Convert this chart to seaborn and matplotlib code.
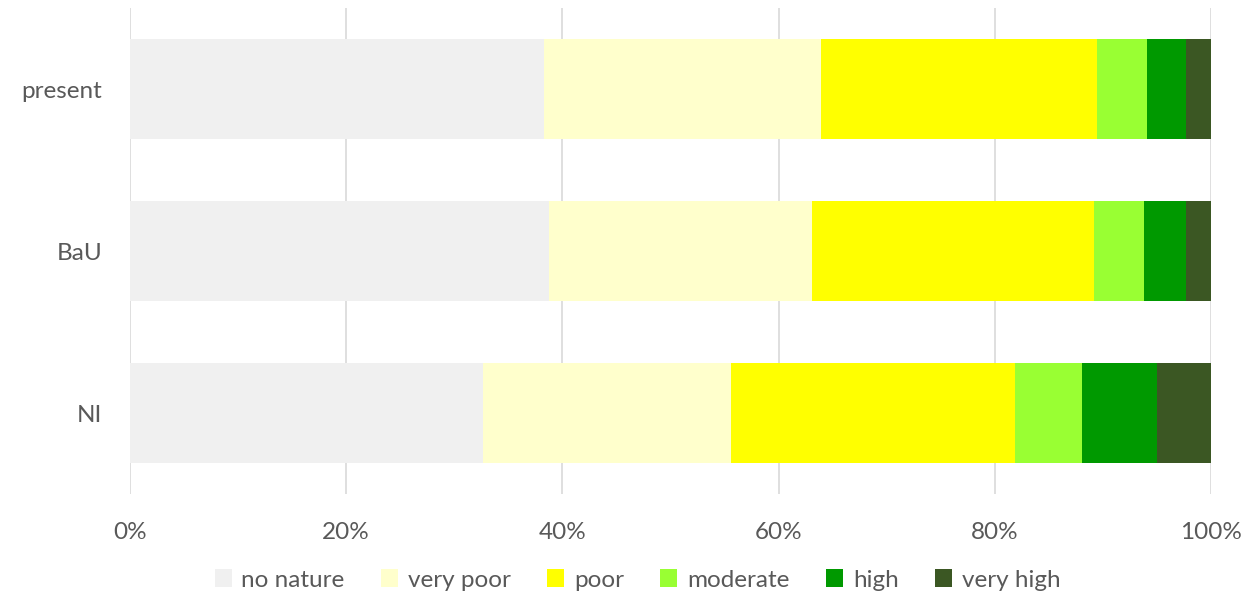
import numpy as np
import pandas as pd
import seaborn as sns
import matplotlib.pyplot as plt
from matplotlib.patches import Patch

scenarios = ["present", "BaU", "NI"]
classes = ["no nature", "very poor", "poor", "moderate", "high", "very high"]

no_nature = [38.3, 38.8, 32.7]
very_poor = [25.6, 24.3, 22.9]
poor = [25.6, 26.1, 26.3]
moderate = [4.6, 4.6, 6.2]
high = [3.6, 3.9, 6.9]
very_high = [2.3, 2.3, 5.0]

colors = ["#F0F0F0", "#FFFFCC", "#FFFF00", "#99FF33", "#009900", "#3B5723"]
tick_labels = ["0%", "20%", "40%", "60%", "80%", "100%"]

sns.set_theme(style="white")
plt.rcParams["font.family"] = ["Lato", "DejaVu Sans"]

shares = pd.DataFrame(
    [no_nature, very_poor, poor, moderate, high, very_high],
    index=classes, columns=scenarios,
).T
# normalise each scenario to 100 %
shares = shares.div(shares.sum(axis=1), axis=0) * 100
cumulative = shares.cumsum(axis=1)

fig = plt.figure(figsize=(12.55, 6.01), dpi=100)
ax = fig.add_axes([130 / 1255, 1 - 494 / 601, 1081 / 1255, 486 / 601])

# draw the stacked bars back to front: the widest cumulative layer first
for cls, col in reversed(list(zip(classes, colors))):
    data = pd.DataFrame({"scenario": scenarios, "value": cumulative[cls].values})
    sns.barplot(data=data, x="value", y="scenario", order=scenarios,
                color=col, saturation=1, width=0.617, linewidth=0,
                ax=ax, zorder=3)

ax.set_xlim(0, 100)
ax.set_ylim(2.5, -0.5)
ax.set_xticks(np.arange(0, 101, 20))
ax.set_xticklabels(tick_labels)
ax.set_xlabel("")
ax.set_ylabel("")
ax.grid(axis="x", color="#D9D9D9", linewidth=1.2, zorder=0)
ax.grid(axis="y", visible=False)
for s in ax.spines.values():
    s.set_visible(False)
ax.tick_params(axis="both", length=0, labelsize=17.5, colors="#595959")
ax.tick_params(axis="x", pad=20)
ax.tick_params(axis="y", pad=20)

handles = [Patch(facecolor=c, edgecolor="none", label=l) for l, c in zip(classes, colors)]
fig.legend(handles=handles, loc="center", bbox_to_anchor=(0.508, 1 - 580 / 601),
           ncol=6, frameon=False, fontsize=17.5, handlelength=0.7, handleheight=0.7,
           handletextpad=0.4, columnspacing=1.5, labelcolor="#595959")

fig.savefig("out.png", dpi=100)
